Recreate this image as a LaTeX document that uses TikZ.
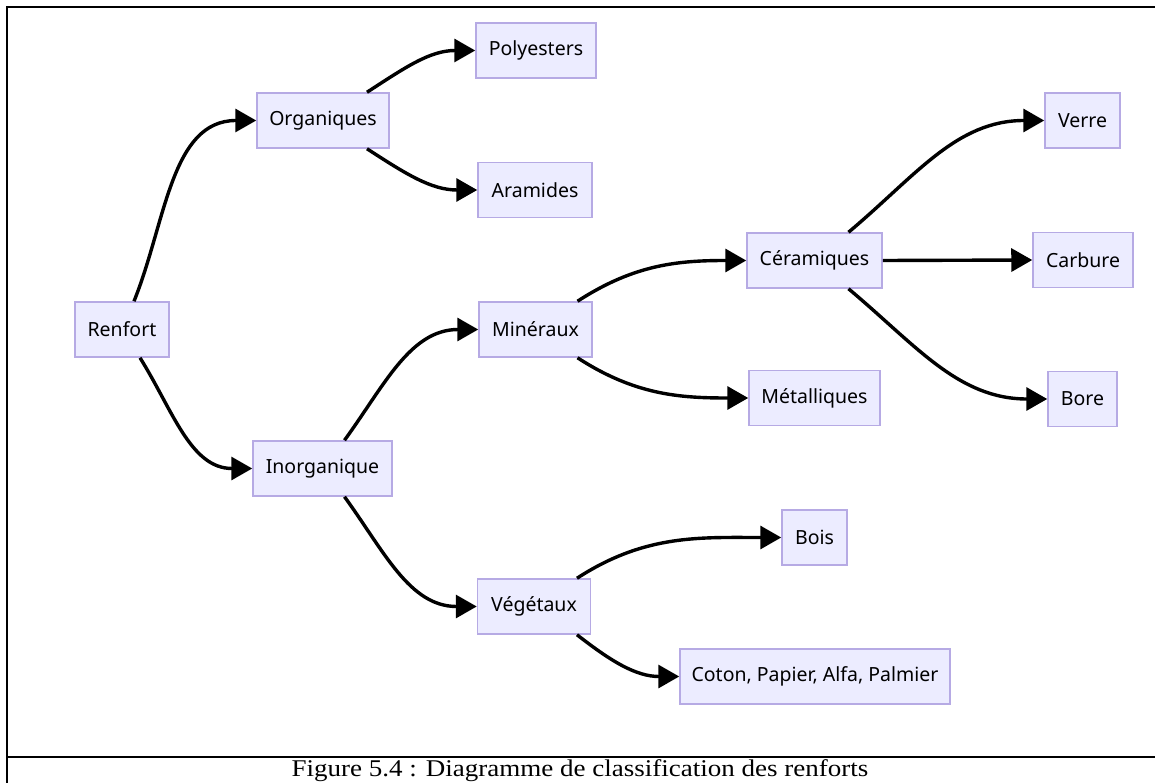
\documentclass[tikz,border=0pt]{standalone}
\usepackage{fontspec}
\usepackage{graphicx}
\setmainfont{Noto Sans}
\newfontfamily\captionserif{Liberation Serif}
\usetikzlibrary{arrows.meta}

\definecolor{boxfill}{HTML}{ECECFF}
\definecolor{boxline}{RGB}{182,170,228}

\tikzset{
  cls/.style={draw=boxline, fill=boxfill, line width=1.5pt, minimum height=55pt,
              inner sep=0pt, font=\fontsize{19.5}{21}\selectfont, text=black},
  edge/.style={line width=3.4pt, draw=black, -{Triangle[length=21pt,width=23pt]}},
  frame/.style={line width=2pt, draw=black}
}

\begin{document}
\begin{tikzpicture}[x=1pt,y=1pt]
\useasboundingbox (0,0) rectangle (1155,-783);

% outer frame and caption rule
\draw[frame] (7,-783) -- (7,-7) -- (1155,-7);
\draw[frame, line width=2.6pt] (7,-757) -- (1155,-757);

% classification nodes
\node[cls, minimum width=94]  (ren)   at (122,-329.5)  {Renfort};
\node[cls, minimum width=132] (org)   at (323,-120.5)  {Organiques};
\node[cls, minimum width=120] (poly)  at (536,-50.5)   {Polyesters};
\node[cls, minimum width=114] (ara)   at (535,-190)    {Aramides};
\node[cls, minimum width=139] (ino)   at (322.5,-468.5){Inorganique};
\node[cls, minimum width=113] (mine)  at (535.5,-329.5){Minéraux};
\node[cls, minimum width=113] (veg)   at (534,-606.5)  {Végétaux};
\node[cls, minimum width=135] (cer)   at (814.5,-260.5){Céramiques};
\node[cls, minimum width=131] (met)   at (814.5,-398)  {Métalliques};
\node[cls, minimum width=65]  (bois)  at (814.5,-537.5){Bois};
\node[cls, minimum width=270] (coton) at (815,-676.5)  {Coton, Papier, Alfa, Palmier};
\node[cls, minimum width=75]  (verre) at (1082.5,-120.5){Verre};
\node[cls, minimum width=100] (carb)  at (1083,-260)   {Carbure};
\node[cls, minimum width=69]  (bore)  at (1082.5,-399) {Bore};

% connectors
\draw[edge] ([xshift=12]ren.north)  to[out=68,in=180]  (org.west);
\draw[edge] ([xshift=18]ren.south)  to[out=-58,in=180] (ino.west);
\draw[edge] ([xshift=44]org.north)  to[out=33,in=180]  (poly.west);
\draw[edge] ([xshift=44]org.south)  to[out=-33,in=180] (ara.west);
\draw[edge] ([xshift=22]ino.north)  to[out=54,in=180]  (mine.west);
\draw[edge] ([xshift=22]ino.south)  to[out=-54,in=180] (veg.west);
\draw[edge] ([xshift=42]mine.north) to[out=33,in=180]  (cer.west);
\draw[edge] ([xshift=42]mine.south) to[out=-33,in=180] (met.west);
\draw[edge] ([xshift=43]veg.north)  to[out=33,in=180]  (bois.west);
\draw[edge] ([xshift=43]veg.south)  to[out=-38,in=180] (coton.west);
\draw[edge] ([xshift=34]cer.north)  to[out=40,in=180]  (verre.west);
\draw[edge] (cer.east) -- (carb.west);
\draw[edge] ([xshift=34]cer.south)  to[out=-40,in=180] (bore.west);

% caption, widened to the column width
\node[anchor=base, inner sep=0pt, font=\captionserif\fontsize{24}{26}\selectfont] (cap) at (580,-776)
  {\scalebox{1.125}[1]{Figure 5.4 : Diagramme de classification des renforts}};
\end{tikzpicture}
\end{document}
